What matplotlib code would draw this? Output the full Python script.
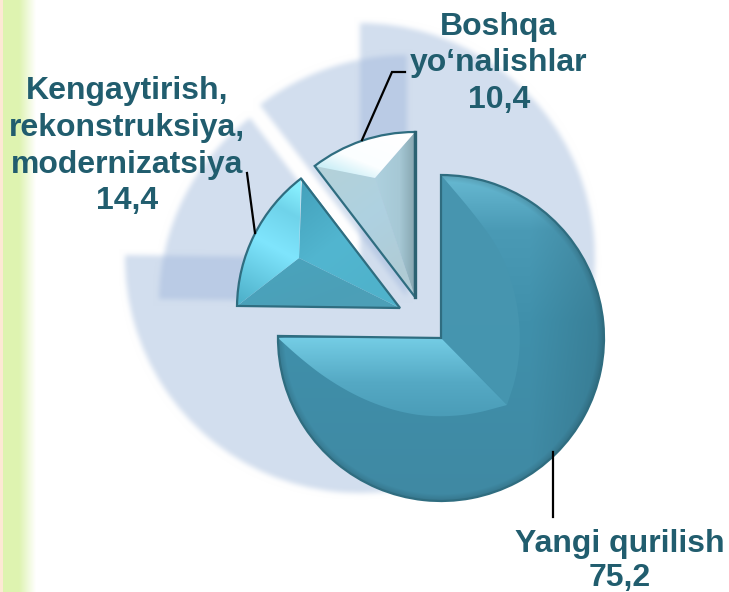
import numpy as np
import matplotlib
matplotlib.use("Agg")
import matplotlib.pyplot as plt
from matplotlib.patches import Polygon

W, H = 729, 592
labels = ["Yangi qurilish", "Kengaytirish,\nrekonstruksiya,\nmodernizatsiya", "Boshqa\nyo\u2018nalishlar"]
values = [75.2, 14.4, 10.4]
value_labels = ["75,2", "14,4", "10,4"]

plt.rcParams['font.family'] = ['Liberation Sans', 'DejaVu Sans']
TXT = '#215d6e'
EDGE = '#2f6d80'

def P(x, y):
    return (x, H - y)

def new_axes(fig):
    return fig.add_axes([0, 0, 1, 1])

def set_view(ax):
    ax.set_xlim(0, W)
    ax.set_ylim(0, H)
    ax.set_aspect('auto')
    ax.set_axis_off()

# ---- soft ghost pie behind the chart (rendered, blurred) ----
gfig = plt.figure(figsize=(W / 100, H / 100), dpi=100)
gax = new_axes(gfig)
gw, _ = gax.pie(values, startangle=90, counterclock=False, radius=235,
                colors=['#9db6db'] * 3, wedgeprops=dict(alpha=0.45, linewidth=0))
ghost_geo = [((360, 258), 235), ((391, 302), 232), ((407, 297), 242)]
for w, (c, r) in zip(gw, ghost_geo):
    w.set_center(P(*c))
    w.set_radius(r)
set_view(gax)
gfig.canvas.draw()
ghost = np.asarray(gfig.canvas.buffer_rgba())[:, :, :3].astype(float)
plt.close(gfig)

def box_blur(a, rad):
    k = np.ones(2 * rad + 1) / (2 * rad + 1)
    pad = np.pad(a, ((rad, rad), (rad, rad), (0, 0)), mode='edge')
    out = np.apply_along_axis(lambda m: np.convolve(m, k, mode='valid'), 0, pad)
    out = np.apply_along_axis(lambda m: np.convolve(m, k, mode='valid'), 1, out)
    return out

for _ in range(3):
    ghost = box_blur(ghost, 2)

# left strip: peach line, green band that fades to white
xx = np.arange(W) + 0.5
fade = np.clip((36 - xx) / 17, 0, 1)[:, None]
green = np.array([222, 243, 176.0])
strip = 255 - (255 - green) * fade
strip[:3] = np.array([253, 232, 212.0])
for i in np.where(fade[:, 0] > 0)[0]:
    ghost[:, i, :] = strip[i]

fig = plt.figure(figsize=(W / 100, H / 100), dpi=100)
ax = new_axes(fig)
ax.imshow(ghost / 255, extent=(0, W, 0, H), origin='upper', zorder=0, interpolation='nearest')

# ---- main exploded pie ----
wedges, _ = ax.pie(values, startangle=90, counterclock=False, radius=163,
                   colors=['#3f8ba5', '#4ba2bb', '#aed1e0'],
                   wedgeprops=dict(edgecolor=EDGE, linewidth=1.6, zorder=2))
geo = [((441, 338), 163), ((400, 308), 163), ((415, 297), 165)]
for w, (c, r) in zip(wedges, geo):
    w.set_center(P(*c))
    w.set_radius(r)
set_view(ax)

YY, XX = np.mgrid[0:H, 0:W] + 0.5

def hex2rgb(h):
    return np.array(matplotlib.colors.to_rgb(h))

def grad(p1, p2, stops):
    p1, p2 = np.array(p1, float), np.array(p2, float)
    d = p2 - p1
    t = ((XX - p1[0]) * d[0] + (YY - p1[1]) * d[1]) / (d @ d)
    t = np.clip(t, 0, 1)
    pos = np.array([s[0] for s in stops])
    cols = np.array([hex2rgb(s[1]) for s in stops])
    return np.dstack([np.interp(t, pos, cols[:, i]) for i in range(3)])

def clip_image(arr, verts, z):
    poly = Polygon([P(*v) for v in verts], closed=True, transform=ax.transData,
                   facecolor='none', edgecolor='none')
    im = ax.imshow(arr, extent=(0, W, 0, H), origin='upper', zorder=z, interpolation='nearest')
    im.set_clip_path(poly)
    return im

def facet(verts, p1, p2, stops, z=1.5):
    return clip_image(grad(p1, p2, stops), verts, z)

def arc(c, r, t1, t2, n=60):
    th = np.radians(np.linspace(t1, t2, n))
    return [(c[0] + r * np.cos(a), c[1] - r * np.sin(a)) for a in th]

def smooth(pts, it=4):
    pts = np.array(pts, float)
    for _ in range(it):
        q = 0.75 * pts[:-1] + 0.25 * pts[1:]
        r = 0.25 * pts[:-1] + 0.75 * pts[1:]
        mid = np.empty((2 * len(q), 2))
        mid[0::2] = q
        mid[1::2] = r
        pts = np.vstack([pts[0], mid, pts[-1]])
    return [tuple(p) for p in pts]

for w in wedges:
    w.set_facecolor('none')
    w.set_zorder(3)

# big slice: base with soft shading to the right and towards the rim
c0, r0 = geo[0]
rim = arc(c0, r0, wedges[0].theta1, wedges[0].theta2, 160)
base = grad((441, 175), (441, 500),
            [(0, '#68bad3'), (0.17, '#4a9ab5'), (0.45, '#4090ab'), (1, '#3f89a3')])
shade = 1 - 0.12 * np.clip((XX - 530) / 74, 0, 1)
dist = np.hypot(XX - c0[0], YY - c0[1])
shade = shade * (1 - 0.14 * np.clip((dist - r0 + 7) / 7, 0, 1))
clip_image(base * shade[:, :, None], [c0] + rim, 1.1)
inner = smooth([(278, 338), (300, 358), (327, 379), (360, 398), (395, 411), (430, 417), (470, 415), (507, 405)])
facet([(441, 338)] + inner, (400, 338), (400, 418),
      [(0, '#74cde5'), (0.55, '#55a9c4'), (1, '#4a9cb7')], z=1.3)
right = smooth([(507, 405), (517, 375), (521, 335), (515, 290), (500, 250), (475, 215), (441, 175)])
facet([(441, 338)] + right, (441, 175), (441, 400),
      [(0, '#4895af'), (1, '#4595af')], z=1.2)

# middle slice
c1, r1 = geo[1]
rim1 = arc(c1, r1, wedges[1].theta1, wedges[1].theta2)
ip1 = (299, 258)
facet([c1, ip1, (237, 306)], (300, 258), (320, 308), [(0, '#4aa3bc'), (1, '#4c9fb7')], z=1.2)
facet([(302, 178), ip1, c1], (300, 190), (380, 290),
      [(0, '#45a3bd'), (0.5, '#52b6d0'), (1, '#4fb2cb')], z=1.2)
facet([ip1] + rim1, (240, 300), (300, 190),
      [(0, '#4fb2cb'), (0.5, '#7fe5fd'), (0.8, '#6fd3ea'), (1, '#86eefd')], z=1.3)

# small slice
c2, r2 = geo[2]
rim2 = arc(c2, r2, wedges[2].theta1, wedges[2].theta2)
ip2 = (375, 178)
facet([c2, ip2, (315, 165)], (320, 170), (400, 280),
      [(0, '#b4d1d9'), (0.5, '#aed1e1'), (1, '#b0cbd4')], z=1.2)
facet([c2, ip2, (415, 132)], (375, 200), (416, 200),
      [(0, '#aed1df'), (0.6, '#a6c8d5'), (1, '#84a3ad')], z=1.2)
facet([ip2] + rim2, (370, 185), (390, 135),
      [(0, '#cdeff7'), (0.35, '#fbfeff'), (1, '#ffffff')], z=1.3)
ax.plot([415, 415], [H - 132, H - 297], color='#2c6272', lw=2.4, zorder=3.5)

# leader lines
for xs, ys in [((362, 392, 405), (140, 72, 72)),
               ((255, 247), (233, 173)),
               ((553, 553), (452, 517))]:
    ax.plot(xs, [H - y for y in ys], color='black', lw=1.6, zorder=4, solid_joinstyle='miter')

# labels
kw = dict(color=TXT, fontsize=23, fontweight='bold', ha='center', va='baseline', zorder=5)
def stack(x, baselines, text):
    for y, line in zip(baselines, text.split('\n')):
        ax.text(x, H - y, line, **kw)

stack(620, [552, 586], labels[0] + '\n' + value_labels[0])
stack(127, [99, 136, 173, 209], labels[1] + '\n' + value_labels[1])
stack(499, [35, 71, 108], labels[2] + '\n' + value_labels[2])

set_view(ax)
fig.savefig('out.png', dpi=100)
